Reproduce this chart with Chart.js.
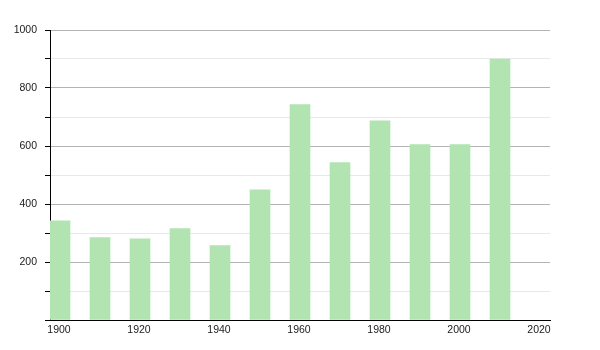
<!DOCTYPE html>
<html>
<head>
<meta charset="utf-8">
<script src="https://cdn.jsdelivr.net/npm/chart.js@4"></script>
<style>
  html, body { margin: 0; padding: 0; background: #fff; }
  #wrap { width: 600px; height: 350px; }
</style>
</head>
<body>
<div id="wrap"><canvas id="myChart" width="600" height="350"></canvas></div>
<script>
// values
var years = [1900, 1910, 1920, 1930, 1940, 1950, 1960, 1970, 1980, 1990, 2000, 2010];
var values = [342, 284, 280, 315, 257, 449, 743, 543, 687, 605, 605, 900];
var xTicks = [1900, 1920, 1940, 1960, 1980, 2000, 2020];
var yTicks = [200, 400, 600, 800, 1000];

Chart.defaults.font.family = '"Liberation Sans", Arial, sans-serif';
Chart.defaults.font.size = 10.5;
Chart.defaults.color = '#1a1a1a';

var ctx = document.getElementById('myChart').getContext('2d');

// each bar covers the first half of its decade
var points = years.map(function (y, i) {
  return { x: y + 2.5, y: values[i] };
});

var myChart = new Chart(ctx, {
  type: 'bar',
  data: {
    datasets: [{
      data: points,
      backgroundColor: '#b2e4b2',
      borderWidth: 0,
      barThickness: 20
    }]
  },
  options: {
    responsive: false,
    animation: false,
    layout: { padding: { top: 30, right: 50, left: 0, bottom: 0 } },
    plugins: { legend: { display: false }, tooltip: { enabled: false } },
    scales: {
      x: {
        type: 'linear',
        offset: false,
        min: 1900,
        max: 2025,
        afterBuildTicks: function (scale) {
          scale.ticks = xTicks.map(function (v) { return { value: v }; });
        },
        afterFit: function (scale) { scale.height = 30; },
        grid: { display: false, drawTicks: false },
        border: { display: true, color: '#000', width: 1 },
        ticks: {
          labelOffset: 9,
          padding: 4,
          maxRotation: 0,
          callback: function (v) { return String(v); }
        }
      },
      y: {
        min: 0,
        max: 1000,
        afterFit: function (scale) { scale.width = 50; },
        ticks: {
          stepSize: 100,
          padding: 8,
          callback: function (v) { return yTicks.indexOf(v) >= 0 ? String(v) : ''; }
        },
        grid: {
          color: function (c) {
            return c.tick && c.tick.value % 200 === 0 ? '#b4b4b4' : '#e8e8e8';
          },
          tickColor: '#000',
          tickLength: 5
        },
        border: { display: true, color: '#000', width: 1 }
      }
    }
  }
});
</script>
</body>
</html>
